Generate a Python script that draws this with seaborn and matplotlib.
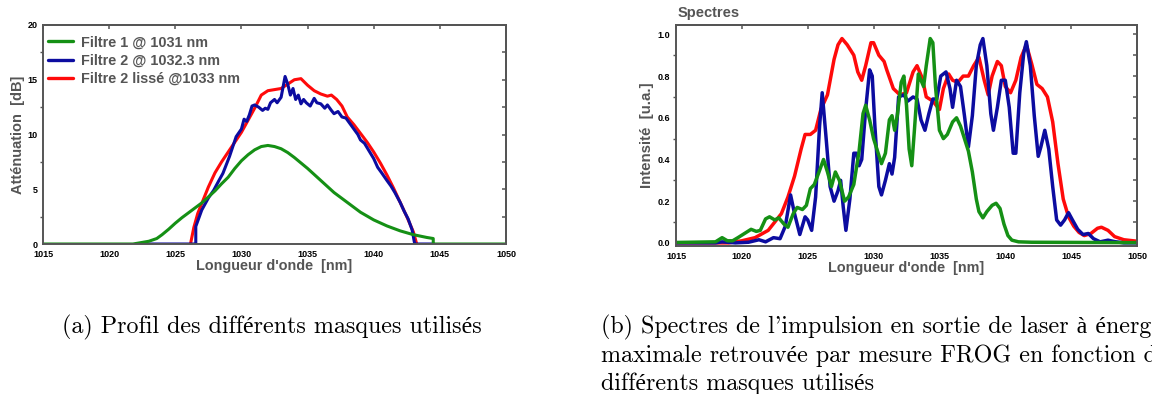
import matplotlib
matplotlib.use("Agg")
import matplotlib.pyplot as plt
import numpy as np
import pandas as pd
import seaborn as sns
from matplotlib.ticker import MultipleLocator, FormatStrFormatter

# ---- panel (a): filter attenuation profiles [dB] ----
filtre1_x = [1015, 1021.8, 1023, 1023.6, 1024, 1024.5, 1025, 1025.5, 1026, 1026.5, 1027, 1027.5,
             1028, 1028.5, 1029, 1029.5, 1030, 1030.5, 1031, 1031.5, 1032, 1032.5, 1033, 1033.5,
             1034, 1035, 1036, 1037, 1038, 1039, 1040, 1041, 1042, 1043, 1044, 1044.5, 1044.5, 1050]
filtre1_y = [0, 0, 0.25, 0.5, 0.85, 1.35, 1.9, 2.4, 2.85, 3.3, 3.75, 4.3,
             4.85, 5.5, 6.1, 6.9, 7.6, 8.15, 8.6, 8.9, 9.0, 8.9, 8.7, 8.35,
             7.9, 6.9, 5.8, 4.7, 3.8, 2.9, 2.2, 1.65, 1.2, 0.85, 0.6, 0.5, 0, 0]

filtre2_x = [1022.3, 1026.55, 1026.55, 1027, 1027.5, 1027.9, 1028.3, 1028.6, 1029.1, 1029.6, 1030,
             1030.2, 1030.4, 1030.6, 1030.8, 1031, 1031.3, 1031.6, 1031.8, 1032, 1032.2, 1032.5,
             1032.7, 1033, 1033.3, 1033.5, 1033.7, 1033.9, 1034.1, 1034.3, 1034.5, 1034.7, 1034.9,
             1035.2, 1035.5, 1035.7, 1036, 1036.3, 1036.5, 1036.8, 1037, 1037.3, 1037.6, 1037.9,
             1038.2, 1038.5, 1038.8, 1039, 1039.3, 1039.6, 1040, 1040.3, 1040.6, 1041, 1041.3,
             1041.6, 1042, 1042.3, 1042.6, 1042.9, 1043.1, 1044.55]
filtre2_y = [0, 0, 1.6, 3.1, 4.2, 4.9, 5.8, 6.45, 8.0, 9.8, 10.5,
             11.4, 11.2, 11.8, 12.6, 12.7, 12.5, 12.2, 12.4, 12.3, 12.9, 13.2,
             12.9, 13.4, 15.3, 14.6, 13.6, 14.2, 13.2, 13.6, 12.8, 13.2, 12.9,
             12.6, 13.3, 12.9, 12.8, 12.4, 12.7, 12.2, 11.9, 12.1, 11.6, 11.5,
             11.0, 10.5, 10.0, 9.5, 9.2, 8.6, 7.8, 7.0, 6.5, 5.8, 5.3,
             4.7, 3.8, 3.0, 2.3, 1.3, 0, 0]

lisse_x = [1026.15, 1026.4, 1026.7, 1027, 1027.5, 1028, 1028.5, 1029, 1029.5, 1030, 1030.5, 1031,
           1031.5, 1032, 1032.5, 1033, 1033.5, 1034, 1034.5, 1035, 1035.5, 1036, 1036.5, 1036.8,
           1037.2, 1037.6, 1038, 1038.5, 1039, 1039.5, 1040, 1040.5, 1041, 1041.5, 1042, 1042.5,
           1043, 1043.25]
lisse_y = [0, 1.5, 2.8, 3.7, 5.2, 6.5, 7.5, 8.4, 9.3, 10.2, 11.3, 12.4,
           13.6, 14.0, 14.1, 14.2, 14.6, 15.0, 15.1, 14.5, 14.0, 13.7, 13.5, 13.6,
           13.2, 12.6, 11.6, 10.9, 10.1, 9.3, 8.4, 7.4, 6.3, 5.1, 3.8, 2.5,
           1.1, 0]

# ---- panel (b): retrieved FROG spectra [u.a.] ----
spec_red_x = [1015, 1019, 1020, 1021, 1022, 1023, 1023.5, 1024, 1024.5, 1024.8, 1025.2, 1025.6,
              1026, 1026.5, 1027, 1027.3, 1027.6, 1028, 1028.5, 1028.8, 1029.1, 1029.4, 1029.8,
              1030, 1030.4, 1030.8, 1031, 1031.5, 1032, 1032.5, 1033, 1033.3, 1033.7, 1034,
              1034.5, 1035, 1035.3, 1035.7, 1036, 1036.4, 1036.8, 1037.2, 1037.6, 1038, 1038.4,
              1038.7, 1039, 1039.4, 1039.7, 1040, 1040.4, 1040.8, 1041.2, 1041.6, 1042, 1042.4,
              1042.8, 1043.2, 1043.6, 1044, 1044.4, 1044.8, 1045.2, 1045.6, 1046, 1046.5, 1047,
              1047.3, 1047.8, 1048.3, 1049, 1050]
spec_red_y = [0, 0, 0.01, 0.025, 0.06, 0.14, 0.22, 0.32, 0.45, 0.52, 0.52, 0.54,
              0.64, 0.71, 0.88, 0.95, 0.98, 0.95, 0.90, 0.82, 0.78, 0.85, 0.96,
              0.96, 0.90, 0.87, 0.83, 0.74, 0.71, 0.72, 0.82, 0.85, 0.79, 0.70,
              0.68, 0.64, 0.74, 0.81, 0.78, 0.77, 0.80, 0.80, 0.85, 0.89, 0.78,
              0.71, 0.80, 0.87, 0.85, 0.75, 0.72, 0.78, 0.89, 0.95, 0.86, 0.76,
              0.74, 0.70, 0.58, 0.38, 0.21, 0.125, 0.08, 0.05, 0.035, 0.045, 0.07,
              0.075, 0.06, 0.03, 0.015, 0.008]

spec_blue_x = [1015, 1018, 1018.5, 1019.5, 1020.5, 1021.3, 1021.8, 1022.4, 1022.9, 1023.3, 1023.7,
               1024, 1024.4, 1024.8, 1025, 1025.3, 1025.6, 1025.9, 1026.1, 1026.4, 1026.7, 1027,
               1027.3, 1027.5, 1027.7, 1027.9, 1028.2, 1028.5, 1028.7, 1028.9, 1029.1, 1029.4,
               1029.7, 1029.9, 1030.1, 1030.4, 1030.6, 1030.9, 1031.2, 1031.4, 1031.6, 1031.9,
               1032.3, 1032.6, 1033, 1033.3, 1033.6, 1033.9, 1034.2, 1034.5, 1034.8, 1035.1,
               1035.5, 1035.8, 1036, 1036.3, 1036.6, 1036.9, 1037.2, 1037.5, 1037.8, 1038.1,
               1038.3, 1038.6, 1038.9, 1039.1, 1039.4, 1039.7, 1040, 1040.3, 1040.6, 1040.8,
               1041.1, 1041.4, 1041.6, 1041.9, 1042.2, 1042.5, 1042.7, 1043, 1043.3, 1043.6,
               1043.9, 1044.2, 1044.5, 1044.8, 1045.1, 1045.5, 1045.9, 1046.3, 1046.7, 1047.2,
               1047.8, 1048.3, 1049, 1050]
spec_blue_y = [0, 0, 0.005, 0, 0.003, 0.015, 0.005, 0.025, 0.02, 0.08, 0.23,
               0.14, 0.04, 0.125, 0.11, 0.06, 0.22, 0.56, 0.72, 0.50, 0.27, 0.20,
               0.25, 0.30, 0.17, 0.06, 0.21, 0.43, 0.43, 0.37, 0.40, 0.64,
               0.83, 0.80, 0.56, 0.27, 0.23, 0.30, 0.38, 0.33, 0.41, 0.70,
               0.71, 0.68, 0.70, 0.69, 0.59, 0.54, 0.62, 0.69, 0.69, 0.80,
               0.82, 0.74, 0.65, 0.78, 0.75, 0.61, 0.46, 0.61, 0.85, 0.95,
               0.98, 0.85, 0.62, 0.54, 0.65, 0.78, 0.78, 0.65, 0.43, 0.43,
               0.72, 0.91, 0.965, 0.85, 0.61, 0.415, 0.46, 0.54, 0.45, 0.27,
               0.11, 0.085, 0.11, 0.145, 0.11, 0.065, 0.04, 0.045, 0.02, 0.005,
               0.013, 0.006, 0.0, 0.0]

spec_green_x = [1015, 1018, 1018.5, 1018.9, 1019.3, 1019.7, 1020.2, 1020.7, 1021.1, 1021.4, 1021.8,
                1022.1, 1022.5, 1022.8, 1023.2, 1023.5, 1023.9, 1024.2, 1024.6, 1024.9, 1025.2,
                1025.5, 1025.8, 1026.2, 1026.5, 1026.8, 1027.1, 1027.4, 1027.8, 1028.1, 1028.5,
                1028.9, 1029.2, 1029.4, 1029.7, 1030, 1030.3, 1030.6, 1030.9, 1031.2, 1031.4,
                1031.6, 1031.8, 1032.1, 1032.3, 1032.5, 1032.7, 1032.9, 1033.1, 1033.4, 1033.6,
                1033.8, 1034, 1034.3, 1034.5, 1034.7, 1035, 1035.3, 1035.6, 1036, 1036.3, 1036.6,
                1036.9, 1037.2, 1037.5, 1037.8, 1038, 1038.3, 1038.6, 1039, 1039.3, 1039.6,
                1039.9, 1040.2, 1040.5, 1041, 1042, 1050]
spec_green_y = [0.002, 0.005, 0.025, 0.01, 0.01, 0.025, 0.045, 0.065, 0.055, 0.06, 0.115,
                0.125, 0.11, 0.12, 0.09, 0.075, 0.14, 0.17, 0.16, 0.18, 0.26,
                0.28, 0.33, 0.40, 0.34, 0.27, 0.34, 0.30, 0.20, 0.22, 0.28,
                0.44, 0.62, 0.66, 0.59, 0.50, 0.44, 0.38, 0.43, 0.59, 0.61,
                0.54, 0.61, 0.77, 0.80, 0.66, 0.45, 0.37, 0.54, 0.81, 0.78,
                0.75, 0.85, 0.98, 0.96, 0.75, 0.54, 0.50, 0.52, 0.58, 0.60, 0.56,
                0.50, 0.44, 0.34, 0.21, 0.15, 0.12, 0.15, 0.18, 0.19, 0.165,
                0.09, 0.035, 0.013, 0.005, 0.003, 0.001]

labels_a = ["Filtre 1 @ 1031 nm", "Filtre 2 @ 1032.3 nm", "Filtre 2 lissé @1033 nm"]
x_ticks = [1015, 1020, 1025, 1030, 1035, 1040, 1045, 1050]
caption_a = "(a) Profil des différents masques utilisés"
caption_b = ["(b) Spectres de l'impulsion en sortie de laser à énergie",
             "maximale retrouvée par mesure FROG en fonction des",
             "différents masques utilisés"]

GREEN = "#159015"
BLUE = "#0c0ca0"
RED = "#ff0a0a"
GREY = "#555555"

sns.set_theme(style="white")
plt.rcParams["font.family"] = ["Liberation Sans", "DejaVu Sans"]
plt.rcParams["font.weight"] = "bold"

fig = plt.figure(figsize=(11.52, 3.94), dpi=100)
ax_a = fig.add_axes([43 / 1152, 1 - 244 / 394, 463 / 1152, 219 / 394])
ax_b = fig.add_axes([676 / 1152, 1 - 246 / 394, 461 / 1152, 221 / 394])


def draw(ax, xs, ys, color, lw):
    frame = pd.DataFrame({"x": xs, "y": ys})
    sns.lineplot(data=frame, x="x", y="y", color=color, linewidth=lw, estimator=None,
                 sort=False, ax=ax, legend=False)


def style_axes(ax, ymajor, yminor, ylim):
    ax.set_xlim(1015, 1050)
    ax.set_ylim(*ylim)
    ax.set_xticks(x_ticks)
    ax.yaxis.set_major_locator(MultipleLocator(ymajor))
    ax.yaxis.set_minor_locator(MultipleLocator(yminor))
    for s in ax.spines.values():
        s.set_color(GREY)
        s.set_linewidth(1.4)
    ax.tick_params(axis="both", which="major", direction="out", length=3, width=1.1,
                   color=GREY, labelsize=6.5, pad=1, labelcolor="black")
    ax.tick_params(axis="y", which="minor", direction="out", length=2, width=1, color=GREY, left=True)
    top = ax.secondary_xaxis("top")
    top.set_xticks(x_ticks)
    top.tick_params(direction="in", length=3, width=1.1, color=GREY, labeltop=False)
    right = ax.secondary_yaxis("right")
    right.yaxis.set_major_locator(MultipleLocator(ymajor))
    right.yaxis.set_minor_locator(MultipleLocator(yminor))
    right.tick_params(which="both", direction="in", length=3, width=1.1, color=GREY, labelright=False)
    for sec in (top, right):
        for s in sec.spines.values():
            s.set_color(GREY)
            s.set_linewidth(1.4)
    ax.set_xlabel("Longueur d'onde  [nm]", fontsize=10.4, color=GREY, fontweight="bold", labelpad=0)


# panel (a)
draw(ax_a, lisse_x, lisse_y, RED, 2.2)
draw(ax_a, filtre2_x, filtre2_y, BLUE, 2.2)
draw(ax_a, filtre1_x, filtre1_y, GREEN, 2.2)
style_axes(ax_a, 5, 2.5, (0, 20))
ax_a.set_ylabel("Atténuation  [dB]", fontsize=10.5, color=GREY, fontweight="bold", labelpad=2)
handles = [plt.Line2D([], [], color=c, linewidth=2.4) for c in (GREEN, BLUE, RED)]
leg = ax_a.legend(handles, labels_a, loc="upper left", bbox_to_anchor=(0.0, 0.975), frameon=False,
                  fontsize=10.4, handlelength=1.75, handletextpad=0.55, labelspacing=0.28,
                  borderaxespad=0, borderpad=0.35)
for t in leg.get_texts():
    t.set_color(GREY)
    t.set_fontweight("bold")

# panel (b)
draw(ax_b, spec_red_x, spec_red_y, RED, 2.5)
draw(ax_b, spec_blue_x, spec_blue_y, BLUE, 2.5)
draw(ax_b, spec_green_x, spec_green_y, GREEN, 2.5)
style_axes(ax_b, 0.2, 0.1, (-0.015, 1.045))
ax_b.yaxis.set_major_formatter(FormatStrFormatter("%.1f"))
ax_b.set_ylabel("Intensité  [u.a.]", fontsize=10.8, color=GREY, fontweight="bold", labelpad=3)
fig.text(678 / 1152, 1 - 13 / 394, "Spectres", fontsize=10.5, color=GREY, fontweight="bold",
         ha="left", va="center")

for lab in ax_a.get_xticklabels() + ax_a.get_yticklabels() + ax_b.get_xticklabels() + ax_b.get_yticklabels():
    lab.set_fontweight("bold")

# captions (LaTeX-like serif)
cap_font = dict(family=["cmr10", "Liberation Serif"], fontsize=17.3, color="black", fontweight="normal")
fig.text(62 / 1152, 1 - 327 / 394, caption_a, ha="left", va="center", **cap_font)
for i, line in enumerate(caption_b):
    fig.text(601 / 1152, 1 - (327 + 28.5 * i) / 394, line, ha="left", va="center", **cap_font)

fig.savefig("out.png", dpi=100)
